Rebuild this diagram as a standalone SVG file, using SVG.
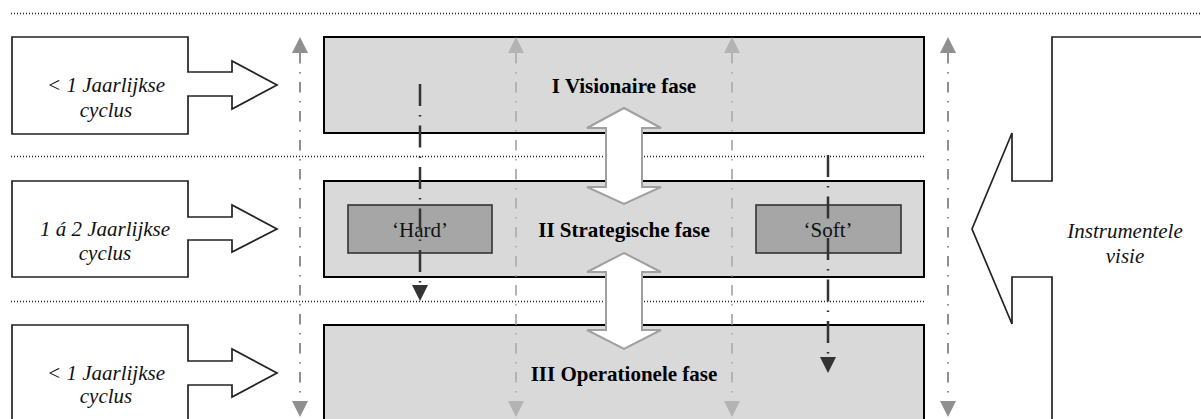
<svg xmlns="http://www.w3.org/2000/svg" width="1201" height="419" viewBox="0 0 1201 419">
  <style>
    .sep { stroke: #222; stroke-width: 1.3; stroke-dasharray: 1 2; fill: none; }
    .phase { fill: #d9d9d9; stroke: #000; stroke-width: 2; }
    .tag { fill: #a6a6a6; stroke: #333; stroke-width: 1.6; }
    .cycle { fill: #fff; stroke: #222; stroke-width: 1.7; }
    .flow { fill: #fff; stroke: #a0a0a0; stroke-width: 2; }
    .title { font-family: "Liberation Serif", "Times New Roman", "DejaVu Serif", serif; font-size: 21px; font-weight: bold; fill: #000; text-anchor: middle; }
    .label { font-family: "Liberation Serif", "Times New Roman", "DejaVu Serif", serif; font-size: 21px; fill: #111; text-anchor: middle; }
    .note { font-family: "Liberation Serif", "Times New Roman", "DejaVu Serif", serif; font-size: 21px; font-style: italic; fill: #111; text-anchor: middle; }
    .span-out { stroke: #8f8f8f; stroke-width: 2; stroke-dasharray: 10.5 8.5 1.5 8.5; fill: none; marker-start: url(#headOut); marker-end: url(#headOut); }
    .span-in { stroke: #b3b3b3; stroke-width: 2; stroke-dasharray: 10.5 8.5 1.5 8.5; fill: none; marker-start: url(#headIn); marker-end: url(#headIn); }
    .cascade { stroke: #333; stroke-width: 2.5; stroke-dasharray: 22 9 1.5 9; fill: none; marker-end: url(#headDark); }
  </style>
  <defs>
    <marker id="headOut" viewBox="0 0 16 16" refX="0" refY="8" markerWidth="16" markerHeight="16" markerUnits="userSpaceOnUse" orient="auto-start-reverse">
      <path d="M0,0 L16,8 L0,16 z" fill="#8f8f8f"/>
    </marker>
    <marker id="headIn" viewBox="0 0 16 16" refX="0" refY="8" markerWidth="16" markerHeight="16" markerUnits="userSpaceOnUse" orient="auto-start-reverse">
      <path d="M0,0 L16,8 L0,16 z" fill="#b3b3b3"/>
    </marker>
    <marker id="headDark" viewBox="0 0 16 16" refX="0" refY="8" markerWidth="16" markerHeight="16" markerUnits="userSpaceOnUse" orient="auto">
      <path d="M0,0 L16,8 L0,16 z" fill="#333"/>
    </marker>
  </defs>

  <!-- horizontal separators -->
  <g id="separators">
    <line class="sep" x1="11" y1="13.5" x2="1201" y2="13.5"/>
    <line class="sep" x1="11" y1="156.5" x2="924" y2="156.5"/>
    <line class="sep" x1="11" y1="301.5" x2="924" y2="301.5"/>
  </g>

  <!-- cycle arrows on the left -->
  <g id="cycle-1">
    <path class="cycle" d="M12,37 H188 V72 H232 V61 L277,85 L232,109 V96 H188 V134 H12 Z"/>
    <text class="note" x="106" y="92">&lt; 1 Jaarlijkse</text>
    <text class="note" x="106" y="117">cyclus</text>
  </g>
  <g id="cycle-2">
    <path class="cycle" d="M12,181 H188 V217 H232 V205 L277,229 L232,252 V240 H188 V277 H12 Z"/>
    <text class="note" x="105" y="236">1 á 2 Jaarlijkse</text>
    <text class="note" x="105" y="260">cyclus</text>
  </g>
  <g id="cycle-3">
    <path class="cycle" d="M12,430 V325 H188 V361 H232 V349 L277,373 L232,397 V385 H188 V430"/>
    <text class="note" x="106" y="380">&lt; 1 Jaarlijkse</text>
    <text class="note" x="106" y="403">cyclus</text>
  </g>

  <!-- phases -->
  <g id="phase-1">
    <rect class="phase" x="324" y="37" width="600" height="96"/>
    <text class="title" x="624" y="93">I Visionaire fase</text>
  </g>
  <g id="phase-2">
    <rect class="phase" x="324" y="181" width="600" height="96"/>
    <text class="title" x="624" y="237">II Strategische fase</text>
  </g>
  <g id="phase-3">
    <path class="phase" d="M324,430 V325 H924 V430"/>
    <text class="title" x="624" y="381">III Operationele fase</text>
  </g>
  <g id="hard">
    <rect class="tag" x="348" y="205" width="144" height="48"/>
    <text class="label" x="420" y="237">‘Hard’</text>
  </g>
  <g id="soft">
    <rect class="tag" x="756" y="205" width="145" height="48"/>
    <text class="label" x="828" y="237">‘Soft’</text>
  </g>

  <!-- vision arrow on the right -->
  <g id="vision">
    <path class="cycle" d="M1210,37 H1052 V181 H1012 V133 L972,229 L1012,324 V277 H1052 V430"/>
    <text class="note" x="1125" y="238">Instrumentele</text>
    <text class="note" x="1125" y="263">visie</text>
  </g>

  <!-- connectors -->
  <g id="connectors">
    <line class="span-out" x1="300" y1="53" x2="300" y2="401"/>
    <line class="span-in" x1="516" y1="53" x2="516" y2="401"/>
    <line class="span-in" x1="732" y1="53" x2="732" y2="401"/>
    <line class="span-out" x1="948" y1="53" x2="948" y2="401"/>
    <line class="cascade" x1="420" y1="84" x2="420" y2="285"/>
    <line class="cascade" x1="828" y1="155" x2="828" y2="357"/>
    <path class="flow" d="M624,108 L661,128 H642 V187 H661 L624,204 L587,187 H606 V128 H587 Z"/>
    <path class="flow" d="M624,253 L661,272 H642 V330 H661 L624,349 L587,330 H606 V272 H587 Z"/>
  </g>
</svg>
